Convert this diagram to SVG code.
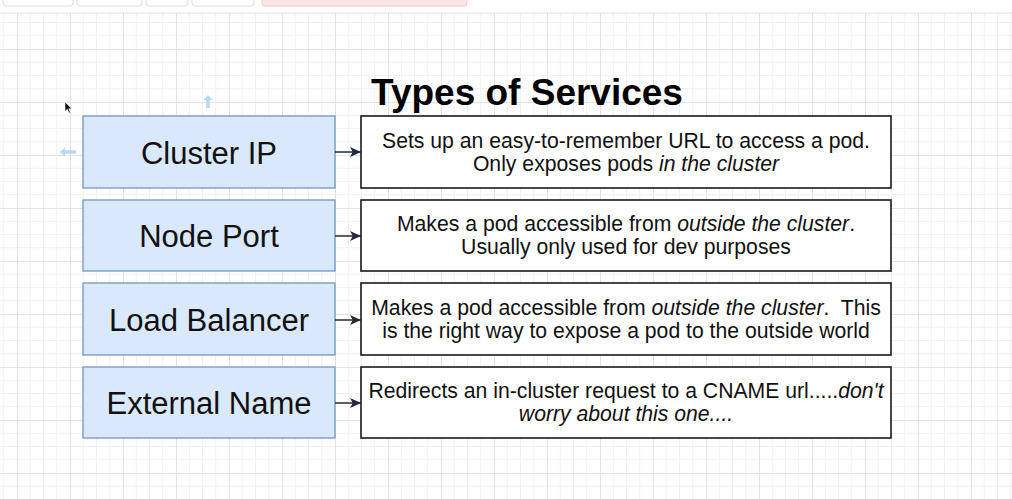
<svg xmlns="http://www.w3.org/2000/svg" width="1012" height="499" viewBox="0 0 1012 499">
<defs>
<pattern id="grid" patternUnits="userSpaceOnUse" x="70" y="49" width="53" height="53">
<path d="M13.25 0V53M26.5 0V53M39.75 0V53M0 13.25H53M0 26.5H53M0 39.75H53" stroke="#f1f1f1" stroke-width="1" fill="none"/>
<path d="M0.5 0V53M0 0.5H53" stroke="#e3e3e3" stroke-width="1" fill="none"/>
</pattern>
<marker id="ah" viewBox="0 0 10 10" refX="10" refY="5" markerWidth="11" markerHeight="11" markerUnits="userSpaceOnUse" orient="auto">
<path d="M0 0.5L10 5L0 9.5L2.5 5Z" fill="#232b36"/>
</marker>
<style>
.svc rect{fill:#dae8fc;stroke:#6c8ebf;stroke-width:1.2}
.svc text{font-family:"Liberation Sans",Arial,sans-serif;font-size:31px;fill:#111;text-anchor:middle}
.desc rect{fill:#fff;stroke:#1a1a1a;stroke-width:1.6}
.desc text{font-family:"Liberation Sans",Arial,sans-serif;font-size:21.2px;fill:#111;text-anchor:middle;white-space:pre}
.it{font-style:italic}
.conn line{stroke:#232b36;stroke-width:1.5;marker-end:url(#ah)}
.btn{fill:#fff;stroke:#dcdcdc;stroke-width:1}
</style>
</defs>
<rect width="1012" height="499" fill="#fff"/>
<rect x="0" y="13" width="1012" height="486" fill="url(#grid)"/>
<line x1="0" y1="13" x2="1012" y2="13" stroke="#e0e0e0"/>
<g id="toolbar">
<rect class="btn" x="3" y="-6" width="70" height="12" rx="3"/>
<rect class="btn" x="77" y="-6" width="65" height="12" rx="3"/>
<rect class="btn" x="146" y="-6" width="42" height="12" rx="3"/>
<rect class="btn" x="192" y="-6" width="62" height="12" rx="3"/>
<rect x="262" y="-6" width="205" height="12" rx="3" fill="#fbe6e6" stroke="#f0c6c6"/>
</g>
<g id="title">
<text x="527" y="105" font-family="'Liberation Sans',Arial,sans-serif" font-size="37" font-weight="bold" text-anchor="middle" fill="#000">Types of Services</text>
</g>
<g id="hover-hints" fill="#b5d9f2">
<path d="M208 95L212.5 100H209.8V108H206.2V100H203.5Z"/>
<path d="M60 152L65 147.5V150.2H76V153.8H65V156.5Z"/>
</g>
<g id="cursor">
<path d="M65 102V111.5L67.3 109.3L69 113L70.4 112.4L68.8 108.8H72Z" fill="#111" stroke="#fff" stroke-width="0.6"/>
</g>
<g id="cluster-ip" class="svc"><rect x="83" y="116" width="252" height="72"/><text x="209" y="164">Cluster IP</text></g>
<g id="node-port" class="svc"><rect x="83" y="200" width="252" height="71"/><text x="209" y="247">Node Port</text></g>
<g id="load-balancer" class="svc"><rect x="83" y="283" width="252" height="72"/><text x="209" y="331">Load Balancer</text></g>
<g id="external-name" class="svc"><rect x="83" y="367" width="252" height="71"/><text x="209" y="414">External Name</text></g>
<g id="desc-cluster-ip" class="desc"><rect x="361" y="116" width="530" height="72"/>
<text x="626" y="148">Sets up an easy-to-remember URL to access a pod.</text>
<text x="626" y="171">Only exposes pods <tspan class="it">in the cluster</tspan></text></g>
<g id="desc-node-port" class="desc"><rect x="361" y="200" width="530" height="71"/>
<text x="626" y="231">Makes a pod accessible from <tspan class="it">outside the cluster</tspan>.</text>
<text x="626" y="254">Usually only used for dev purposes</text></g>
<g id="desc-load-balancer" class="desc"><rect x="361" y="283" width="530" height="72"/>
<text x="626" y="315">Makes a pod accessible from <tspan class="it">outside the cluster</tspan>.  This</text>
<text x="626" y="338">is the right way to expose a pod to the outside world</text></g>
<g id="desc-external-name" class="desc"><rect x="361" y="367" width="530" height="71"/>
<text x="626" y="398">Redirects an in-cluster request to a CNAME url.....<tspan class="it">don't</tspan></text>
<text x="626" y="421" class="it">worry about this one....</text></g>
<g id="connectors" class="conn">
<line x1="335" y1="152" x2="361" y2="152"/>
<line x1="335" y1="236" x2="361" y2="236"/>
<line x1="335" y1="320" x2="361" y2="320"/>
<line x1="335" y1="403" x2="361" y2="403"/>
</g>
</svg>
